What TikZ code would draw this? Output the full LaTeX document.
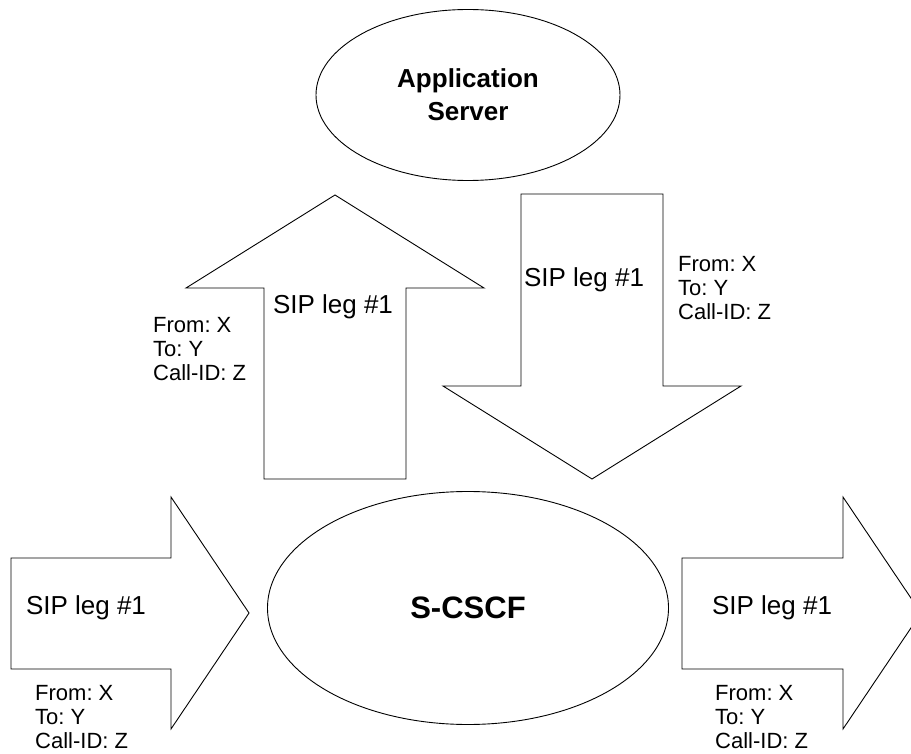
\documentclass[tikz,border=0pt]{standalone}
\usepackage{fontspec}
\setmainfont{Liberation Sans}
\frenchspacing
\usetikzlibrary{shapes.geometric, positioning}
\tikzset{%
  % nodes
            entity/.style = {ellipse, draw=black, line width=0.9pt,
                            inner sep=0pt, align=center, font=\bfseries},
            leg/.style = {inner sep=0pt, font=\fontsize{26}{30}\selectfont},
            hdr/.style = {inner sep=0pt, anchor=west, align=left,
                            font=\fontsize{22}{24}\selectfont},
  % block arrows
            blockarrow/.style = {draw=black, line width=0.9pt, line join=miter}
}
\begin{document}
\begin{tikzpicture}[x=1pt, y=-1pt]
                \clip (0,0) rectangle (911,754);
                \useasboundingbox (0,0) rectangle (911,754);

                \node[entity, minimum width=304pt, minimum height=171pt,
                      font=\bfseries\fontsize{26}{33}\selectfont] (as) at (468,95) {Application\\Server};
                \node[entity, minimum width=401pt, minimum height=233pt,
                      font=\bfseries\fontsize{31}{36}\selectfont] (scscf) at (468,608) {S-CSCF};

                % up and down legs
                \draw[blockarrow] (264,479) -- (264,288) -- (186,288) -- (335,195)
                      -- (484,288) -- (406,288) -- (406,479) -- cycle;
                \draw[blockarrow] (521,194) -- (663,194) -- (663,386) -- (741,386)
                      -- (592,479) -- (443,386) -- (521,386) -- cycle;
                \node[leg] (legup) at (333,307) {SIP leg \#1};
                \node[leg] (legdown) at (584,280) {SIP leg \#1};
                \node[hdr] (hdrup) at (153,349) {From: X\\To: Y\\Call-ID: Z};
                \node[hdr] (hdrdown) at (678,288) {From: X\\To: Y\\Call-ID: Z};

                % in and out legs
                \draw[blockarrow] (11,558) -- (171,558) -- (171,497) -- (249,613)
                      -- (171,729) -- (171,669) -- (11,669) -- cycle;
                \draw[blockarrow] (682,558) -- (843,558) -- (843,497) -- (921,613)
                      -- (843,729) -- (843,669) -- (682,669) -- cycle;
                \node[leg] (legin) at (86,608) {SIP leg \#1};
                \node[leg] (legout) at (772,608) {SIP leg \#1};
                \node[hdr] (hdrin) at (35,717) {From: X\\To: Y\\Call-ID: Z};
                \node[hdr] (hdrout) at (715,717) {From: X\\To: Y\\Call-ID: Z};

\end{tikzpicture}
\end{document}
